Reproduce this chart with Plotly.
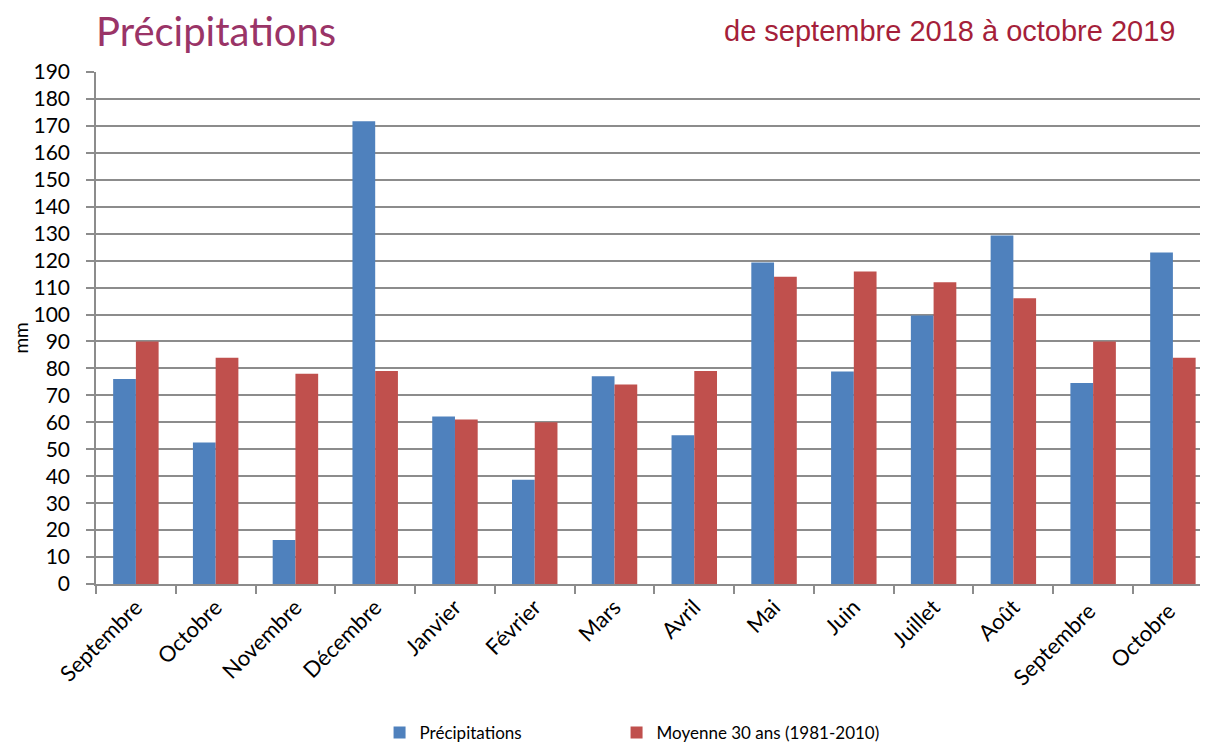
import plotly.graph_objects as go

months = ["Septembre", "Octobre", "Novembre", "Décembre", "Janvier", "Février", "Mars",
          "Avril", "Mai", "Juin", "Juillet", "Août", "Septembre ", "Octobre "]
precipitations = [76.1, 52.5, 16.3, 171.7, 62.2, 38.7, 77.1, 55.2, 119.3, 78.9, 99.6, 129.3, 74.6, 123.0]
moyenne_30_ans = [90, 84, 78, 79, 61, 60, 74, 79, 114, 116, 112, 106, 90, 84]
y_ticks = list(range(0, 200, 10))

BLUE = "#4F81BD"
RED = "#C0504D"
GRID = "#8c8c8c"
FONT = "Lato"

fig = go.Figure()
fig.add_trace(go.Bar(x=months, y=precipitations, name="Précipitations",
                     legendwidth=192,
                     marker=dict(color=BLUE, line=dict(width=0))))
fig.add_trace(go.Bar(x=months, y=moyenne_30_ans, name="Moyenne 30 ans (1981-2010)",
                     legendwidth=250,
                     marker=dict(color=RED, line=dict(width=0))))

# The page body has an 8px margin, so the figure is 8px smaller than the window.
fig.update_layout(
    width=1200, height=735,
    margin=dict(l=88, r=0, t=64, b=159, autoexpand=False),
    paper_bgcolor="white", plot_bgcolor="white",
    barmode="group", bargap=0.43, bargroupgap=0,
    font=dict(family=FONT, size=20, color="black"),
    showlegend=True,
    legend=dict(orientation="h", x=0.255, xanchor="left", y=-0.291, yanchor="middle",
                font=dict(family=FONT, size=17, color="black"),
                bgcolor="rgba(0,0,0,0)", traceorder="normal"),
    xaxis=dict(type="category", range=[-0.5, 13.44], tickangle=-45,
               showline=True, linecolor=GRID, linewidth=1.5,
               ticks="outside", ticklen=8, tickcolor=GRID, tickwidth=1.5,
               tickson="boundaries", showgrid=False,
               tickfont=dict(family=FONT, size=22, color="black")),
    yaxis=dict(range=[0, 190], tickvals=y_ticks, ticktext=[str(v) for v in y_ticks],
               showline=True, linecolor=GRID, linewidth=1.5,
               ticks="outside", ticklen=8, tickcolor=GRID, tickwidth=1.5,
               ticklabelstandoff=12,
               showgrid=True, gridcolor=GRID, gridwidth=1.5, zeroline=False,
               tickfont=dict(family=FONT, size=21, color="black")),
    annotations=[
        dict(text="Précipitations", xref="paper", yref="paper", x=-0.002, y=1.080,
             xanchor="left", yanchor="middle", showarrow=False,
             font=dict(family=FONT, size=40, color="#9A3467")),
        dict(text="de septembre 2018 à octobre 2019", xref="paper", yref="paper",
             x=0.972, y=1.080, xanchor="right", yanchor="middle", showarrow=False,
             font=dict(family="Liberation Sans", size=29, color="#A51F3A")),
        dict(text="mm", xref="paper", yref="paper", x=-0.068, y=0.48,
             xanchor="center", yanchor="middle", textangle=-90, showarrow=False,
             borderpad=0,
             font=dict(family=FONT, size=19, color="black")),
    ],
)

fig.write_html("out.html")
